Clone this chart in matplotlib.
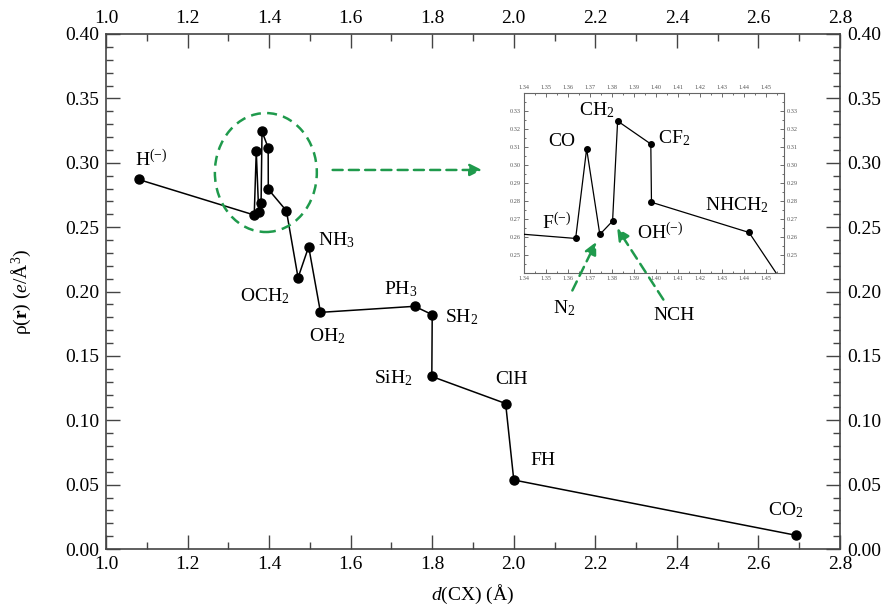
import matplotlib
matplotlib.use("Agg")
import matplotlib.pyplot as plt
from matplotlib.patches import Ellipse
from matplotlib.ticker import MultipleLocator, FormatStrFormatter

plt.rcParams['font.family'] = ['Liberation Serif', 'DejaVu Serif']
plt.rcParams['mathtext.fontset'] = 'custom'
plt.rcParams['mathtext.rm'] = 'Liberation Serif'
plt.rcParams['mathtext.it'] = 'Liberation Serif:italic'
plt.rcParams['mathtext.bf'] = 'Liberation Serif:bold'

# bond distance d(CX) and density rho(r) at the bond critical point
molecules = ['H$^{(-)}$', 'F$^{(-)}$', 'CO', 'N$_2$', 'NCH', 'CH$_2$', 'CF$_2$',
             'OH$^{(-)}$', 'NHCH$_2$', 'OCH$_2$', 'NH$_3$', 'OH$_2$', 'PH$_3$',
             'SH$_2$', 'SiH$_2$', 'ClH', 'FH', 'CO$_2$']
d_cx = [1.080, 1.3635, 1.3685, 1.3745, 1.3803, 1.3826, 1.3977, 1.3980, 1.4424,
        1.471, 1.497, 1.526, 1.757, 1.800, 1.799, 1.980, 2.000, 2.693]
rho = [0.287, 0.2594, 0.3089, 0.2616, 0.2690, 0.3243, 0.3116, 0.2794, 0.2627,
       0.2107, 0.2348, 0.1838, 0.1885, 0.182, 0.134, 0.113, 0.0536, 0.0106]

# label offsets (points) for the main panel and the zoomed panel
main_offsets = {0: (9, 14), 9: (-24, -13), 10: (20, 5), 11: (5, -17), 12: (-10, 12),
                13: (21, -2), 14: (-28, -1), 15: (4, 17), 16: (21, 14), 17: (-8, 18)}
inset_offsets = {1: (-14, 11), 2: (-18, 5), 5: (-15, 8), 6: (17, 4), 7: (6, -22),
                 8: (-9, 20)}
arrow_offsets = {3: (-26, -53), 4: (44, -68)}

green = '#1f9a4c'
spine_col = '#444444'
fs = 14

fig = plt.figure(figsize=(8.86, 6.08), dpi=100)
ax = fig.add_axes([106 / 886, 1 - 549 / 608, 734 / 886, 515 / 608])

ax.plot(d_cx, rho, '-o', color='black', lw=1.1, ms=6.5, zorder=3)

ax.set_xlim(1.0, 2.8)
ax.set_ylim(0.0, 0.40)
ax.xaxis.set_major_locator(MultipleLocator(0.2))
ax.xaxis.set_minor_locator(MultipleLocator(0.1))
ax.yaxis.set_major_locator(MultipleLocator(0.05))
ax.yaxis.set_minor_locator(MultipleLocator(0.01))
ax.xaxis.set_major_formatter(FormatStrFormatter('%.1f'))
ax.yaxis.set_major_formatter(FormatStrFormatter('%.2f'))
ax.tick_params(which='both', direction='in', top=True, right=True,
               labeltop=True, labelright=True, labelsize=fs, color=spine_col,
               width=1.0)
ax.tick_params(which='major', length=10, pad=5)
ax.tick_params(which='minor', length=5)
for s in ax.spines.values():
    s.set_color(spine_col)
    s.set_linewidth(1.2)

ax.set_xlabel('$d$(CX) (Å)', fontsize=fs, labelpad=7)
ax.set_ylabel('ρ($\\mathbf{r}$) ($e$/Å$^3$)', fontsize=fs, labelpad=23)

for i, (dx, dy) in main_offsets.items():
    ax.annotate(molecules[i], (d_cx[i], rho[i]), xytext=(dx, dy),
                textcoords='offset points', ha='center', va='center', fontsize=fs)

# dashed ellipse around the cluster and arrow to the zoom panel
ax.add_patch(Ellipse((1.392, 0.2924), 0.25, 0.0924, fill=False, edgecolor=green,
                     lw=1.8, linestyle=(0, (4, 2.5)), zorder=4))
ax.annotate('', xy=(1.929, 0.2944), xytext=(1.549, 0.2944),
            arrowprops=dict(arrowstyle='-|>', color=green, lw=1.8,
                            linestyle=(0, (4, 2.5)), mutation_scale=18))

# zoomed panel
axin = fig.add_axes([524 / 886, 1 - 273 / 608, 260 / 886, 180 / 608])
axin.plot(d_cx, rho, '-o', color='black', lw=0.9, ms=4, zorder=3)
axin.set_xlim(1.34, 1.4583)
axin.set_ylim(0.2403, 0.3398)
axin.xaxis.set_major_locator(MultipleLocator(0.01))
axin.xaxis.set_minor_locator(MultipleLocator(0.005))
axin.yaxis.set_major_locator(MultipleLocator(0.01))
axin.yaxis.set_minor_locator(MultipleLocator(0.005))
axin.xaxis.set_major_formatter(FormatStrFormatter('%.2f'))
axin.yaxis.set_major_formatter(FormatStrFormatter('%.2f'))
axin.tick_params(which='both', direction='in', top=True, right=True,
                 labeltop=True, labelright=True, labelsize=4.5,
                 labelcolor='#555555', color='#555555', width=0.6, pad=2)
axin.tick_params(which='major', length=3)
axin.tick_params(which='minor', length=1.5)
for s in axin.spines.values():
    s.set_color('#666666')
    s.set_linewidth(0.8)

for i, (dx, dy) in inset_offsets.items():
    axin.annotate(molecules[i], (d_cx[i], rho[i]), xytext=(dx, dy),
                  textcoords='offset points', ha='center', va='center', fontsize=fs)

for i, (dx, dy) in arrow_offsets.items():
    axin.annotate(molecules[i], (d_cx[i], rho[i]), xytext=(dx, dy),
                  textcoords='offset points', ha='center', va='center', fontsize=fs,
                  annotation_clip=False,
                  arrowprops=dict(arrowstyle='-|>', color=green, lw=1.8,
                                  linestyle=(0, (4, 2.5)), mutation_scale=18,
                                  shrinkA=4, shrinkB=6))

fig.savefig('out.png', dpi=100)
